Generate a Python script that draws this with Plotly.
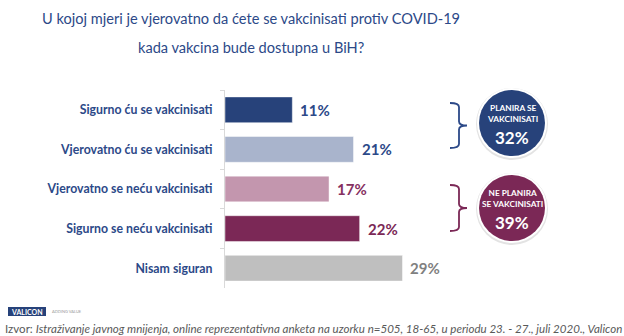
import plotly.graph_objects as go

# Survey answers and shares (%)
categories = [
    "Sigurno ću se vakcinisati",
    "Vjerovatno ću se vakcinisati",
    "Vjerovatno se neću vakcinisati",
    "Sigurno se neću vakcinisati",
    "Nisam siguran",
]
values = [11, 21, 17, 22, 29]
bar_colors = ["#27427a", "#a9b4cc", "#c396ae", "#7b2856", "#bfbfbf"]
label_colors = ["#2c4988", "#2c4988", "#86305f", "#7b2856", "#808080"]

# Grouped totals shown in the circles
plan_yes = values[0] + values[1]
plan_no = values[2] + values[3]

title_lines = [
    "U kojoj mjeri je vjerovatno da ćete se vakcinisati protiv COVID-19",
    "kada vakcina bude dostupna u BiH?",
]

W, H = 624, 336
NAVY = "#2c4988"
PLUM = "#7b2856"
FONT = "Lato"


def px(x):
    return x / W


def py(y):
    return 1 - y / H


fig = go.Figure()
fig.add_trace(go.Bar(
    y=categories,
    x=values,
    orientation="h",
    marker=dict(color=bar_colors, line=dict(color="rgba(255,255,255,0.45)", width=1)),
    width=0.65,
    hoverinfo="skip",
))

# Value labels next to each bar
for cat, v, c in zip(categories, values, label_colors):
    fig.add_annotation(
        x=v, y=cat, xref="x", yref="y", text=f"<b>{v}%</b>",
        showarrow=False, xanchor="left", xshift=6,
        font=dict(family=FONT, size=15, color=c),
    )

shapes = []
annotations = []


def brace(x_left, x_mid, x_tip, y0, y1, color):
    r = 4
    ym = (y0 + y1) / 2
    pts = [
        f"M {px(x_left)},{py(y0)}",
        f"Q {px(x_mid)},{py(y0)} {px(x_mid)},{py(y0 + r)}",
        f"L {px(x_mid)},{py(ym - r)}",
        f"Q {px(x_mid)},{py(ym)} {px(x_tip)},{py(ym)}",
        f"Q {px(x_mid)},{py(ym)} {px(x_mid)},{py(ym + r)}",
        f"L {px(x_mid)},{py(y1 - r)}",
        f"Q {px(x_mid)},{py(y1)} {px(x_left)},{py(y1)}",
    ]
    shapes.append(dict(type="path", xref="paper", yref="paper", path=" ".join(pts),
                       line=dict(color=color, width=1.8)))


def badge(cx, cy, r, color, lines, total):
    # soft shadow, white rim, coloured disc
    shapes.append(dict(type="circle", xref="paper", yref="paper",
                       x0=px(cx - r - 3), x1=px(cx + r + 3), y0=py(cy + r + 4), y1=py(cy - r - 2),
                       fillcolor="#e3e3e3", line=dict(width=0), layer="above"))
    shapes.append(dict(type="circle", xref="paper", yref="paper",
                       x0=px(cx - r - 2), x1=px(cx + r + 2), y0=py(cy + r + 2), y1=py(cy - r - 2),
                       fillcolor="white", line=dict(width=0), layer="above"))
    shapes.append(dict(type="circle", xref="paper", yref="paper",
                       x0=px(cx - r), x1=px(cx + r), y0=py(cy + r), y1=py(cy - r),
                       fillcolor=color, line=dict(width=0), layer="above"))
    annotations.append(dict(x=px(cx), y=py(cy - 10), xref="paper", yref="paper",
                            text="<br>".join(f"<b>{t}</b>" for t in lines), showarrow=False,
                            font=dict(family=FONT, size=8.3, color="white"), xanchor="center",
                            yanchor="middle", align="center"))
    annotations.append(dict(x=px(cx), y=py(cy + 14), xref="paper", yref="paper",
                            text=f"<b>{total}%</b>", showarrow=False,
                            font=dict(family=FONT, size=17, color="white"), xanchor="center",
                            yanchor="middle"))


brace(450, 459, 467, 103, 148, NAVY)
brace(450, 459, 467, 185, 231, PLUM)
badge(512, 123, 33, "#27427a", ["PLANIRA SE", "VAKCINISATI"], plan_yes)
badge(512, 208, 33, PLUM, ["NE PLANIRA", "SE VAKCINISATI"], plan_no)

# Title, two lines with generous spacing
for line, ty in zip(title_lines, [18, 48]):
    annotations.append(dict(x=px(251), y=py(ty), xref="paper", yref="paper", text=line,
                            showarrow=False, xanchor="center", yanchor="middle",
                            font=dict(family=FONT, size=14.6, color=NAVY)))

# Logo strip
shapes.append(dict(type="rect", xref="paper", yref="paper",
                   x0=px(8), x1=px(46), y0=py(316), y1=py(307),
                   fillcolor="#27427a", line=dict(width=0)))
annotations.append(dict(x=px(27), y=py(311.5), xref="paper", yref="paper", text="<b>VALICON</b>",
                        showarrow=False, xanchor="center", yanchor="middle",
                        font=dict(family=FONT, size=7, color="white")))
annotations.append(dict(x=px(50), y=py(311.5), xref="paper", yref="paper", text="ADDING VALUE",
                        showarrow=False, xanchor="left", yanchor="middle",
                        font=dict(family=FONT, size=4, color="#9a9a9a")))

# Source note
annotations.append(dict(x=px(3), y=py(328), xref="paper", yref="paper",
                        text="Izvor: <i>Istraživanje javnog mnijenja, online reprezentativna anketa na uzorku "
                             "n=505, 18-65, u periodu 23. - 27., juli 2020., Valicon</i>",
                        showarrow=False, xanchor="left", yanchor="middle",
                        font=dict(family=FONT, size=11.55, color="#595959")))

fig.update_layout(
    width=W, height=H,
    margin=dict(l=0, r=0, t=0, b=0),
    paper_bgcolor="white", plot_bgcolor="white",
    showlegend=False,
    shapes=shapes,
    annotations=list(fig.layout.annotations) + annotations,
    xaxis=dict(domain=[px(225), 1], range=[0, 65.2], visible=False, fixedrange=True),
    yaxis=dict(
        domain=[py(288), py(90)],
        autorange="reversed",
        showline=True, linecolor="#d9d9d9", linewidth=1,
        ticks="outside", tickson="boundaries", ticklen=4, tickcolor="#d9d9d9",
        ticklabelstandoff=9,
        tickfont=dict(family=FONT, size=12.3, color=NAVY, weight="bold"),
        showgrid=False, zeroline=False, fixedrange=True,
    ),
)

fig.write_html("out.html")
